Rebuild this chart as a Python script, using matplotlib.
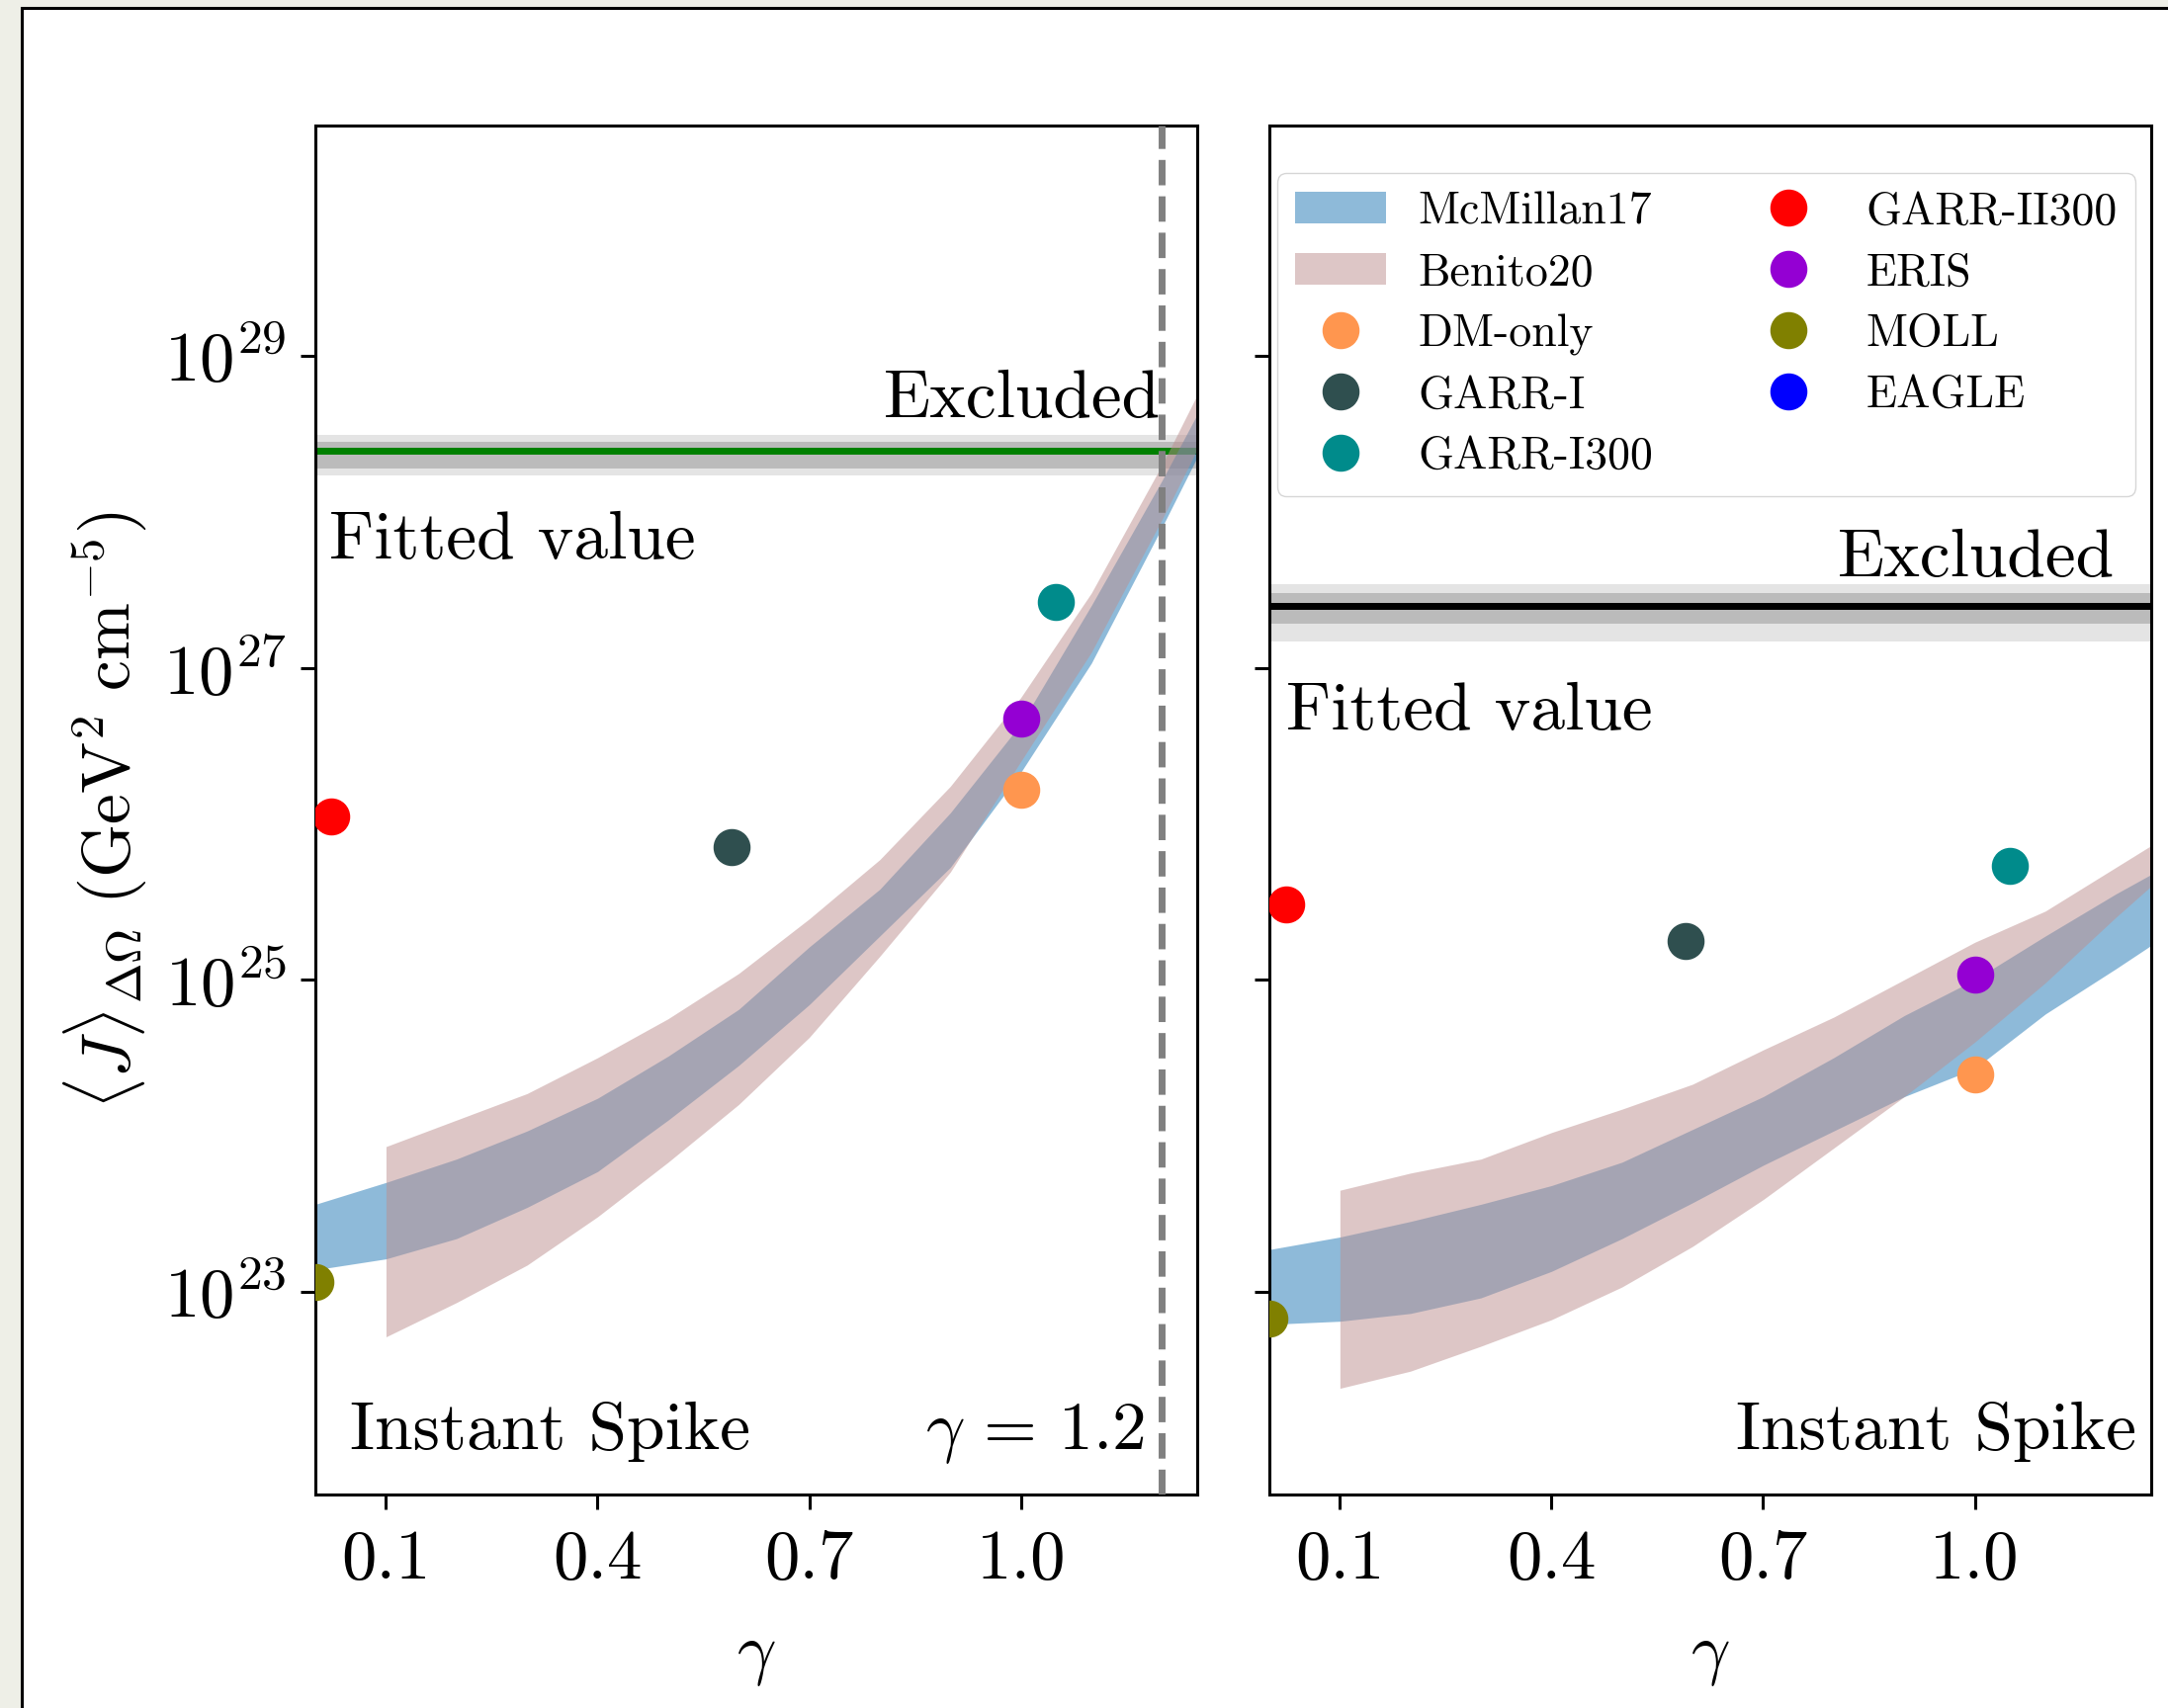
import numpy as np
import matplotlib
matplotlib.use("Agg")
import matplotlib.pyplot as plt
from matplotlib.patches import Rectangle

plt.rcParams.update({
    "font.family": "serif",
    "font.serif": ["cmr10"],
    "mathtext.fontset": "cm",
    "axes.formatter.use_mathtext": True,
    "axes.linewidth": 2.2,
    "xtick.major.size": 11,
    "ytick.major.size": 11,
    "xtick.major.width": 2.2,
    "ytick.major.width": 2.2,
    "xtick.major.pad": 14,
    "ytick.major.pad": 10,
    "xtick.labelsize": 51,
    "ytick.labelsize": 51,
})

# gamma grid of the J-factor bands
gamma_mcm = [0.0, 0.1, 0.2, 0.3, 0.4, 0.5, 0.6, 0.7, 0.8, 0.9, 1.0, 1.1, 1.2, 1.3]
gamma_ben = [0.1, 0.2, 0.3, 0.4, 0.5, 0.6, 0.7, 0.8, 0.9, 1.0, 1.1, 1.2, 1.3]

# log10 <J> band edges, left panel
mcm_lo_L = [23.14, 23.21, 23.34, 23.54, 23.77, 24.10, 24.45, 24.84, 25.28, 25.72, 26.33, 27.03, 27.90, 28.80]
mcm_hi_L = [23.56, 23.70, 23.85, 24.03, 24.24, 24.51, 24.81, 25.21, 25.58, 26.07, 26.64, 27.40, 28.20, 29.05]
ben_lo_L = [22.71, 22.93, 23.17, 23.48, 23.83, 24.20, 24.63, 25.15, 25.69, 26.40, 27.10, 27.95, 28.85]
ben_hi_L = [23.93, 24.10, 24.27, 24.50, 24.75, 25.04, 25.39, 25.77, 26.24, 26.81, 27.48, 28.30, 29.20]

# log10 <J> band edges, right panel
mcm_lo_R = [22.79, 22.81, 22.86, 22.96, 23.13, 23.34, 23.57, 23.81, 24.03, 24.25, 24.43, 24.78, 25.07, 25.37]
mcm_hi_R = [23.27, 23.35, 23.45, 23.56, 23.68, 23.83, 24.04, 24.25, 24.50, 24.77, 25.00, 25.28, 25.55, 25.80]
ben_lo_R = [22.38, 22.49, 22.65, 22.82, 23.03, 23.29, 23.59, 23.92, 24.25, 24.60, 24.98, 25.40, 25.80]
ben_hi_R = [23.65, 23.76, 23.85, 24.02, 24.17, 24.33, 24.55, 24.76, 25.00, 25.24, 25.44, 25.72, 26.00]

# simulations
sim_names = ["DM-only", "GARR-I", "GARR-I300", "GARR-II300", "ERIS", "MOLL", "EAGLE"]
sim_colors = ["#FF964F", "darkslategray", "darkcyan", "red", "darkviolet", "olive", "blue"]
sim_gamma_L = [1.0, 0.59, 1.05, 0.023, 1.0, 0.0, np.nan]
sim_J_L = [26.22, 25.85, 27.42, 26.045, 26.675, 23.06, np.nan]
sim_gamma_R = [1.0, 0.59, 1.05, 0.024, 1.0, 0.0, np.nan]
sim_J_R = [24.395, 25.25, 25.73, 25.48, 25.03, 22.83, np.nan]

# fitted values with 1 and 2 sigma ranges
fit_L = [2.45e28, 1.91e28, 2.82e28, 1.70e28, 3.10e28]
fit_R = [2.51e27, 1.91e27, 3.03e27, 1.48e27, 3.43e27]
gamma_max = 1.2

fig = plt.figure(figsize=(21.93, 17.28), dpi=100, facecolor="#EEEFE7")
fig.add_artist(Rectangle((22 / 2193, -0.05), 1.2, 1.05 - 8.5 / 1728, transform=fig.transFigure,
                         facecolor="white", edgecolor="black", lw=2.2, zorder=-5))

ax1 = fig.add_axes([0.1455, 0.125, 0.4067, 0.8015])
ax2 = fig.add_axes([0.5855, 0.125, 0.4067, 0.8015], sharey=ax1)


def panel(ax, mlo, mhi, blo, bhi, sg, sj, fit, lcolor):
    ax.axhspan(fit[3], fit[4], color="#E4E4E4", lw=0, zorder=1)
    ax.axhspan(fit[1], fit[2], color="#BBBBBB", lw=0, zorder=1)
    ax.axhline(fit[0], color=lcolor, lw=5, zorder=1.5)
    ax.fill_between(gamma_mcm, 10 ** np.array(mlo), 10 ** np.array(mhi),
                    color="C0", alpha=0.5, lw=0, label="McMillan17", zorder=2)
    ax.fill_between(gamma_ben, 10 ** np.array(blo), 10 ** np.array(bhi),
                    color="rosybrown", alpha=0.5, lw=0, label="Benito20", zorder=2)
    for g, j, c, n in zip(sg, sj, sim_colors, sim_names):
        ax.plot([g], [10 ** j], "o", color=c, ms=26, ls="none", label=n, zorder=3)
    ax.set_yscale("log")
    ax.set_xlim(0, 1.25)
    ax.set_ylim(5e21, 3e30)
    ax.set_xticks([0.1, 0.4, 0.7, 1.0])
    ax.set_xticklabels(["0.1", "0.4", "0.7", "1.0"])
    ax.set_yticks([1e23, 1e25, 1e27, 1e29])
    ax.minorticks_off()
    ax.set_xlabel(r"$\gamma$", fontsize=50)
    ax.xaxis.set_label_coords(0.5, -0.097)


panel(ax1, mcm_lo_L, mcm_hi_L, ben_lo_L, ben_hi_L, sim_gamma_L, sim_J_L, fit_L, "green")
panel(ax2, mcm_lo_R, mcm_hi_R, ben_lo_R, ben_hi_R, sim_gamma_R, sim_J_R, fit_R, "black")

ax1.axvline(gamma_max, color="gray", ls="--", lw=5, zorder=4)
ax1.set_ylabel(r"$\langle J\rangle_{\Delta\Omega}\ (\mathrm{GeV}^2\ \mathrm{cm}^{-5})$", fontsize=50)
ax1.yaxis.set_label_coords(-0.19, 0.5)
ax2.tick_params(labelleft=False)

fs = 50
ax1.text(0.959, 10 ** 28.605, "Excluded", transform=ax1.get_yaxis_transform(),
         ha="right", va="baseline", fontsize=fs)
ax1.text(0.0157, 10 ** 27.70, "Fitted value", transform=ax1.get_yaxis_transform(),
         ha="left", va="baseline", fontsize=fs)
ax1.text(0.039, 0.0334, "Instant Spike", transform=ax1.transAxes,
         ha="left", va="baseline", fontsize=fs)
ax1.text(0.940, 0.0334, r"$\gamma\,=\,1.2$", transform=ax1.transAxes,
         ha="right", va="baseline", fontsize=fs)

ax2.text(0.959, 10 ** 27.59, "Excluded", transform=ax2.get_yaxis_transform(),
         ha="right", va="baseline", fontsize=fs)
ax2.text(0.0188, 10 ** 26.605, "Fitted value", transform=ax2.get_yaxis_transform(),
         ha="left", va="baseline", fontsize=fs)
ax2.text(0.983, 0.0334, "Instant Spike", transform=ax2.transAxes,
         ha="right", va="baseline", fontsize=fs)

ax2.legend(loc="upper left", bbox_to_anchor=(0.009, 0.965), borderaxespad=0,
           ncol=2, fontsize=33, numpoints=1, labelspacing=0.44, handletextpad=0.7)

fig.savefig("out.png", dpi=100, facecolor=fig.get_facecolor())
